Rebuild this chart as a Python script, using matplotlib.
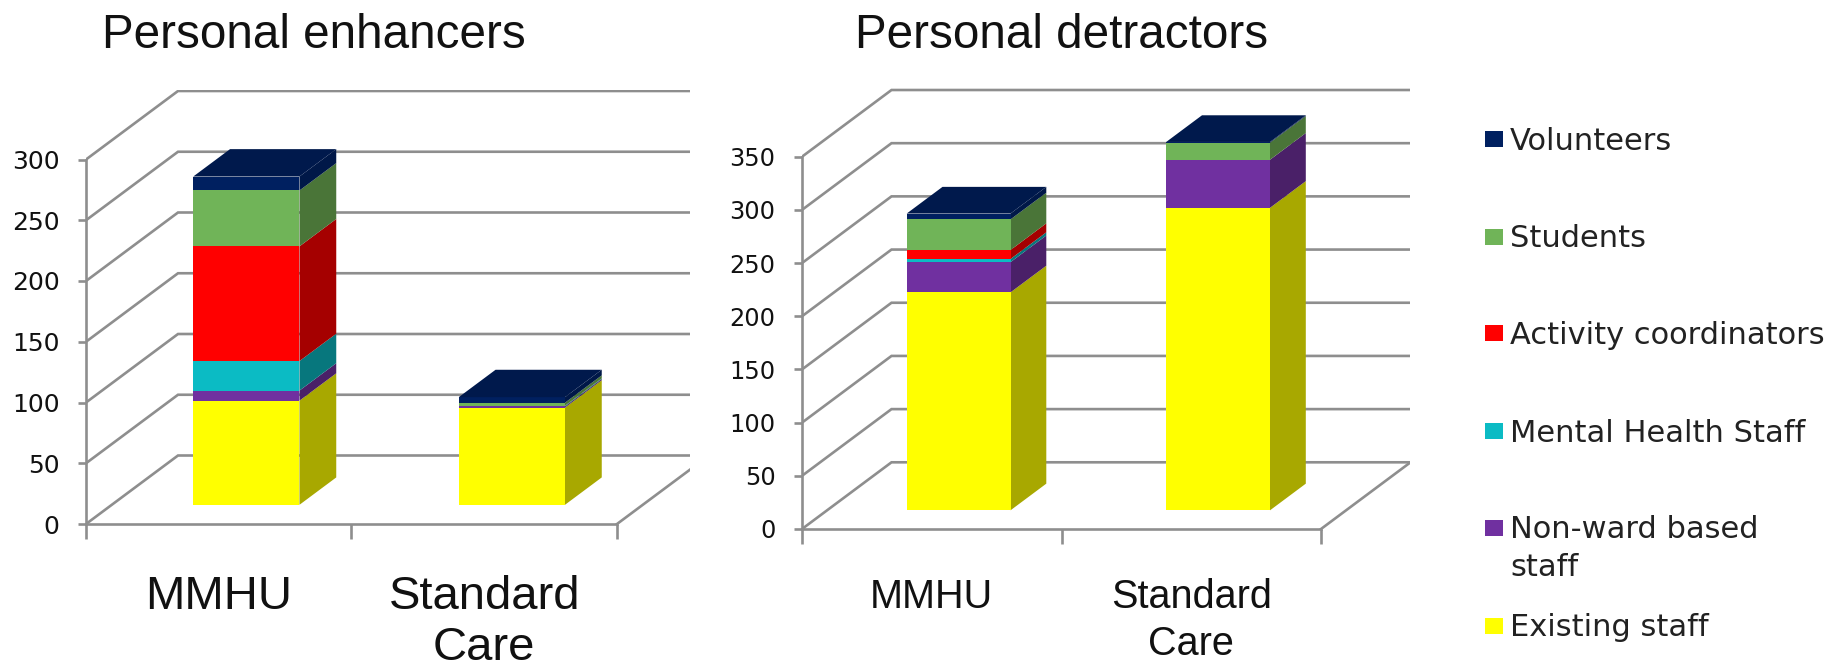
import matplotlib
matplotlib.use("Agg")
import matplotlib.pyplot as plt
from matplotlib.patches import Rectangle

W, H = 1845, 668
categories = ["MMHU", "Standard\nCare"]
series = ["Existing staff", "Non-ward based\nstaff", "Mental Health Staff",
          "Activity coordinators", "Students", "Volunteers"]
enh_existing = [85.7, 80]
enh_nonward = [8.3, 1]
enh_mental = [24.3, 0.5]
enh_activity = [94.4, 0]
enh_students = [46, 2.5]
enh_volunteers = [11.5, 4.6]
det_existing = [204.9, 284.4]
det_nonward = [28.4, 45.2]
det_mental = [3, 0]
det_activity = [8.4, 0]
det_students = [28.8, 16]
det_volunteers = [5.5, 0.7]

front = ["#FFFF00", "#7030A0", "#0BBBC4", "#FF0000", "#70B458", "#002060"]
side = ["#A8A800", "#4A2068", "#07777D", "#A50000", "#4A7538", "#001848"]
top_col = "#00194C"
grid = "#8E8E8E"


def panel(rect, xmax_px, ticks, title, title_xy, data, depth_px,
          tick_fs, cat_fs, cat_pad, cat_ls):
    L, y0, cat_w, px_unit, top_px = rect
    ax = fig.add_axes([L / W, 1 - y0 / H, (xmax_px - L) / W, (y0 - top_px) / H])
    ax.set_xlim(0, (xmax_px - L) / cat_w)
    ax.set_ylim(0, (y0 - top_px) / px_unit)
    ax.patch.set_alpha(0)
    ddx = depth_px[0] / cat_w
    ddy = depth_px[1] / px_unit

    def P(x, y, z):
        return x + z * ddx, y + z * ddy

    # walls and floor
    for v in ticks:
        pts = [P(0, v, 0), P(0, v, 1), P(3, v, 1)]
        ax.plot(*zip(*pts), color=grid, lw=1.9, zorder=1, solid_joinstyle="miter")
    ax.plot(*zip(P(2, 0, 0), P(2, 0, 1)), color=grid, lw=1.9, zorder=1)

    # stacked oblique bars
    z0, z1, bw = 0.28, 0.68, 0.4
    for i in range(len(categories)):
        xc = i + 0.5 + 0.02 * ddx
        xl, xr = xc - bw / 2, xc + bw / 2
        base = 0
        for j, vals in enumerate(data):
            h = vals[i]
            if h > 0:
                top = base + h
                ax.fill(*zip(P(xr, base, z0), P(xr, top, z0), P(xr, top, z1), P(xr, base, z1)),
                        color=side[j], lw=0, zorder=3)
                ax.fill(*zip(P(xl, base, z0), P(xr, base, z0), P(xr, top, z0), P(xl, top, z0)),
                        color=front[j], lw=0, zorder=4)
                base = top
        ax.fill(*zip(P(xl, base, z0), P(xr, base, z0), P(xr, base, z1), P(xl, base, z1)),
                color=top_col, lw=0, zorder=5)

    for s in ("top", "right"):
        ax.spines[s].set_visible(False)
    for s in ("left", "bottom"):
        ax.spines[s].set_color(grid)
        ax.spines[s].set_linewidth(1.9)
    ax.spines["left"].set_bounds(0, ticks[-1])
    ax.spines["bottom"].set_bounds(0, 2)
    ax.set_yticks(ticks)
    ax.tick_params(axis="y", length=6, width=1.9, color=grid, pad=13,
                   labelsize=tick_fs, labelcolor="#111111")
    ax.set_xticks([0, 1, 2])
    ax.set_xticklabels(["", "", ""])
    ax.tick_params(axis="x", which="major", length=11, width=1.9, color=grid)
    ax.set_xticks([0.5, 1.5], minor=True)
    ax.set_xticklabels(categories, minor=True, family="Liberation Sans",
                       fontsize=cat_fs, color="#111111", linespacing=cat_ls)
    ax.tick_params(axis="x", which="minor", length=0, pad=cat_pad)
    fig.text(title_xy[0] / W, 1 - title_xy[1] / H, title, family="Liberation Sans",
             fontsize=34.3, color="#111111", ha="left", va="baseline")


fig = plt.figure(figsize=(W / 100, H / 100), dpi=100)
fig.patch.set_facecolor("white")

panel((86, 524, 265.5, 1.215, 90), 690, [0, 50, 100, 150, 200, 250, 300],
      "Personal enhancers", (102, 48.5),
      [enh_existing, enh_nonward, enh_mental, enh_activity, enh_students, enh_volunteers],
      (92, 68.5), 18, 34, 36.5, 1.22)
panel((802, 529, 259.5, 1.0637, 88), 1410, [0, 50, 100, 150, 200, 250, 300, 350],
      "Personal detractors", (855, 48.5),
      [det_existing, det_nonward, det_mental, det_activity, det_students, det_volunteers],
      (89.5, 66.7), 17.3, 28.5, 35.2, 1.3)

# legend, drawn top to bottom in reversed stacking order
row_y = [626, 528, 431, 333, 236.5, 139]
for name, col, yc in zip(series, front, row_y):
    fig.add_artist(Rectangle((1485 / W, 1 - (yc + 8) / H), 18 / W, 16 / H,
                             transform=fig.transFigure, color=col, lw=0))
    fig.text(1510 / W, 1 - (yc - 12.5) / H, name, fontsize=22, color="#222222",
             ha="left", va="top", linespacing=1.35, family="DejaVu Sans")

fig.savefig("out.png", dpi=100)
